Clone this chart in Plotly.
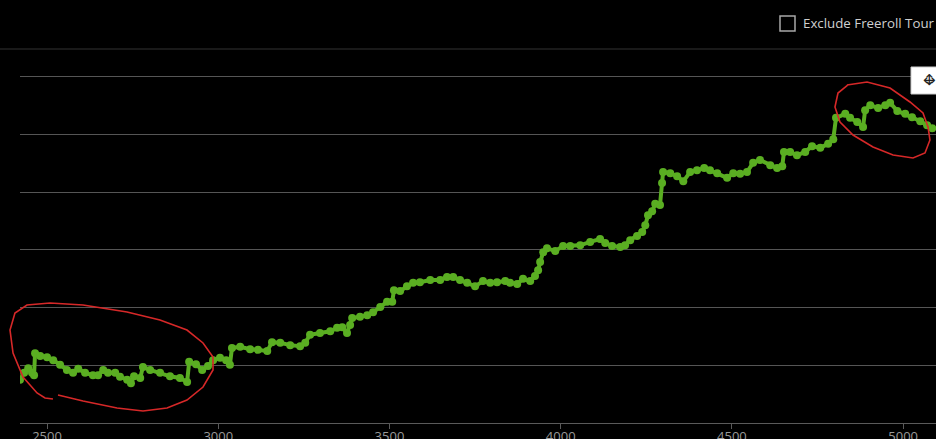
import plotly.graph_objects as go

# ---- data ----
hands = [2421, 2433, 2445, 2456, 2462, 2465, 2480, 2500, 2518, 2538, 2558, 2576, 2591, 2611, 2634, 2649,
         2664, 2678, 2699, 2713, 2734, 2745, 2754, 2772, 2780, 2801, 2830, 2859, 2888, 2909, 2915, 2935,
         2953, 2970, 2985, 3005, 3023, 3034, 3040, 3064, 3093, 3116, 3143, 3157, 3181, 3210, 3239, 3254,
         3268, 3297, 3327, 3347, 3362, 3376, 3385, 3391, 3414, 3435, 3452, 3473, 3493, 3508, 3513, 3531,
         3551, 3569, 3589, 3619, 3648, 3668, 3686, 3706, 3727, 3750, 3773, 3794, 3814, 3838, 3852, 3873,
         3890, 3911, 3925, 3934, 3940, 3949, 3960, 3984, 4007, 4028, 4057, 4086, 4115, 4130, 4150, 4174,
         4188, 4203, 4223, 4238, 4247, 4255, 4267, 4276, 4290, 4296, 4299, 4320, 4340, 4358, 4378, 4398,
         4419, 4436, 4457, 4486, 4504, 4524, 4544, 4562, 4582, 4612, 4632, 4647, 4652, 4670, 4690, 4714,
         4734, 4758, 4781, 4796, 4804, 4831, 4845, 4866, 4883, 4889, 4904, 4927, 4948, 4962, 4983, 5006,
         5026, 5050, 5070, 5085]
winnings = [75, 87, 95, 87, 83, 121, 116, 114, 109, 101, 92, 87, 94, 87, 83, 83,
            92, 87, 87, 80, 75, 69, 81, 78, 97, 92, 87, 81, 78, 71, 106, 102,
            92, 99, 109, 113, 109, 101, 130, 132, 128, 127, 125, 140, 139, 135, 133, 139,
            153, 156, 159, 165, 166, 156, 170, 182, 184, 187, 192, 201, 210, 210, 230, 229,
            237, 243, 244, 248, 248, 253, 253, 248, 243, 237, 246, 243, 244, 246, 243, 241,
            250, 246, 255, 265, 279, 296, 303, 298, 307, 307, 308, 314, 319, 312, 307, 305,
            308, 317, 324, 331, 343, 360, 367, 380, 378, 416, 435, 433, 428, 419, 435, 438,
            442, 438, 433, 425, 433, 432, 435, 451, 456, 447, 442, 445, 470, 470, 464, 470,
            480, 477, 484, 492, 529, 536, 529, 522, 513, 542, 551, 546, 551, 555, 541, 536,
            530, 523, 516, 511]
x_ticks = [2500, 3000, 3500, 4000, 4500, 5000]
x_tick_labels = ["2500", "3000", "3500", "4000", "4500", "5000"]

GREEN = "#5aae22"
W, H = 936, 439
L, T, B = 20, 55, 16
PW, PH = W - L, H - T - B


def px(x, y):
    """pixel -> paper coordinates for decorations"""
    return (x - L) / PW, (H - B - y) / PH


def path_from(points):
    parts = []
    for i, (x, y) in enumerate(points):
        a, b = px(x, y)
        parts.append(("M" if i == 0 else "L") + f"{a:.4f},{b:.4f}")
    return " ".join(parts)


left_loop = [(58, 395), (83, 401), (117, 408), (143, 411), (167, 408), (187, 400), (203, 387),
             (213, 370), (213, 357), (203, 343), (187, 330), (160, 320), (127, 312), (83, 305),
             (50, 303), (27, 305), (15, 313), (10, 330), (13, 353), (23, 377), (37, 393),
             (45, 398), (53, 399)]
right_loop = [(847, 85), (867, 82), (890, 88), (910, 102), (923, 113), (928, 127), (930, 140),
              (925, 153), (913, 158), (893, 155), (873, 147), (853, 135), (840, 122), (835, 107),
              (838, 93), (848, 85)]

fig = go.Figure()
fig.add_trace(go.Scatter(
    x=hands, y=winnings, mode="lines+markers",
    line=dict(color=GREEN, width=4),
    marker=dict(color=GREEN, size=8),
    showlegend=False, hoverinfo="x+y",
))

shapes = []
sx0, sy = px(0, 49)
shapes.append(dict(type="line", xref="paper", yref="paper", x0=sx0, x1=1, y0=sy, y1=sy,
                   line=dict(color="#333333", width=1)))
cx0, cy0 = px(780, 31)
cx1, cy1 = px(795, 16)
shapes.append(dict(type="rect", xref="paper", yref="paper", x0=cx0, x1=cx1, y0=cy0, y1=cy1,
                   line=dict(color="#a8a8a8", width=1.5), fillcolor="rgba(0,0,0,0)"))
bx0, by0 = px(911, 94)
bx1, by1 = px(940, 67)
shapes.append(dict(type="rect", xref="paper", yref="paper", x0=bx0, x1=bx1, y0=by0, y1=by1,
                   line=dict(color="#cccccc", width=1), fillcolor="#ffffff", layer="above"))
for loop in (left_loop, right_loop):
    shapes.append(dict(type="path", xref="paper", yref="paper", path=path_from(loop),
                       line=dict(color="#d62828", width=1.6), layer="above"))

tx, ty = px(801, 23.5)
ix, iy = px(929, 80.5)
annotations = [
    dict(text="Exclude Freeroll Tour", xref="paper", yref="paper", x=tx, y=ty,
         xanchor="left", yanchor="middle", showarrow=False,
         font=dict(family="Open Sans", size=13.3, color="#cfcfcf")),
    dict(text="↔", xref="paper", yref="paper", x=ix, y=iy, xanchor="center", yanchor="middle",
         showarrow=False, font=dict(family="DejaVu Sans", size=15, color="#222222")),
    dict(text="↕", xref="paper", yref="paper", x=ix, y=iy, xanchor="center", yanchor="middle",
         showarrow=False, font=dict(family="DejaVu Sans", size=15, color="#222222")),
]

fig.update_layout(
    width=W, height=H,
    margin=dict(l=L, r=0, t=T, b=B, pad=0, autoexpand=False),
    paper_bgcolor="#000000", plot_bgcolor="#000000",
    shapes=shapes, annotations=annotations,
    font=dict(family="Open Sans", color="#9a9a9a", size=13),
    xaxis=dict(range=[2421, 5096], tickvals=x_ticks, ticktext=x_tick_labels, automargin=False,
               showgrid=False, zeroline=False, showline=True, linecolor="#5a5a5a", linewidth=1,
               ticks="outside", ticklen=5, tickcolor="#5a5a5a", ticklabelstandoff=-4,
               tickfont=dict(family="Open Sans", size=13, color="#9a9a9a")),
    yaxis=dict(range=[0, 638], dtick=100, tick0=0, showgrid=True, gridcolor="#555555",
               gridwidth=1, zeroline=False, showline=False, showticklabels=False, ticks="",
               automargin=False),
)

fig.write_html(
    "out.html",
    config={"displayModeBar": False},
    post_script="document.body.style.margin='0';document.body.style.padding='0';"
                "document.body.style.background='#000';document.body.style.overflow='hidden';",
)
